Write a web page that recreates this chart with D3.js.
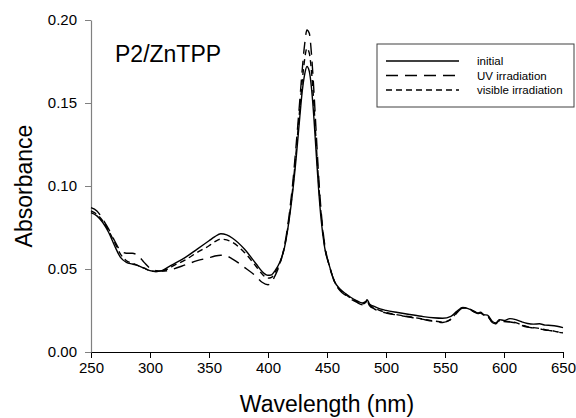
<!DOCTYPE html>
<html>
<head>
<meta charset="utf-8">
<script src="https://cdn.jsdelivr.net/npm/d3@7"></script>
<style>
  body { margin: 0; background: #fff; }
  svg { font-family: "Liberation Sans", Arial, sans-serif; }
</style>
</head>
<body>
<svg id="drawing_region"></svg>
<script>
// wavelengths (nm)
var wavelengths = [
    250, 255, 260, 265, 270, 275, 280, 285, 290, 295,
    300, 305, 310, 315, 320, 330, 340, 350, 355, 360,
    365, 370, 380, 390, 395, 400, 403, 406, 410, 414,
    418, 421, 424, 427, 429, 431, 433, 435, 437, 439,
    441, 443, 445, 448, 452, 456, 461, 466, 470, 475,
    480, 483, 484, 486, 490, 495, 500, 510, 520, 530,
    540, 548, 555, 560, 565, 570, 575, 578, 580, 583,
    586, 590, 593, 596, 600, 605, 610, 615, 620, 625,
    630, 635, 640, 645, 650
];

var initial = [
    .084, .082, .078, .072, .064, .057, .054, .053, .052, .0505,
    .049, .0485, .049, .051, .053, .057, .062, .067, .0695, .0712,
    .0705, .0685, .062, .053, .0485, .0462, .0465, .049, .054, .063,
    .080, .097, .118, .142, .157, .167, .172, .169, .158, .140,
    .118, .097, .080, .063, .052, .043, .038, .035, .033, .031,
    .0295, .0305, .0315, .029, .0275, .026, .0251, .0238, .0226, .0215,
    .0206, .0203, .0215, .0245, .0268, .026, .0245, .0235, .024, .0225,
    .0222, .0185, .0175, .0195, .019, .0201, .0195, .0182, .0172, .0168,
    .017, .0162, .016, .0155, .0147
];

var uvIrradiation = [
    .087, .085, .080, .074, .067, .061, .0595, .0595, .058, .054,
    .0505, .049, .0488, .049, .050, .0525, .055, .0568, .0578, .0583,
    .0578, .056, .051, .0455, .042, .0405, .042, .046, .053, .064,
    .083, .102, .126, .152, .170, .185, .194, .192, .178, .156,
    .130, .105, .085, .065, .052, .043, .037, .034, .032, .030,
    .0285, .030, .0305, .028, .026, .0245, .0235, .0222, .021, .0198,
    .0185, .0178, .0195, .0235, .0265, .026, .024, .0232, .0235, .022,
    .0215, .0178, .017, .0185, .0183, .0181, .0175, .016, .015, .0145,
    .014, .0132, .0128, .012, .0115
];

var visibleIrradiation = [
    .085, .083, .079, .073, .066, .059, .055, .0535, .052, .0505,
    .049, .0485, .0488, .050, .052, .0555, .060, .064, .0665, .068,
    .0675, .066, .060, .0515, .047, .0445, .045, .048, .0535, .0635,
    .081, .099, .122, .147, .163, .176, .183, .180, .168, .148,
    .124, .101, .083, .064, .052, .043, .0375, .0345, .0325, .0305,
    .029, .030, .031, .0285, .0265, .025, .0238, .0224, .0212, .020,
    .0188, .018, .0198, .0238, .0267, .0262, .0242, .0234, .0237, .0222,
    .0218, .018, .0172, .0188, .0185, .0183, .0177, .0163, .0152, .0147,
    .0142, .0134, .013, .0122, .0117
];

var seriesNames = ['initial', 'UV irradiation', 'visible irradiation'];
var seriesValues = [initial, uvIrradiation, visibleIrradiation];
var seriesDash = ['none', '12,7', '6,4'];

var xTicks = [250, 300, 350, 400, 450, 500, 550, 600, 650];
var yTicks = [0.00, 0.05, 0.10, 0.15, 0.20];

var Config = {
    parent: '#drawing_region',
    width: 576,
    height: 418,
    margin: { top: 20, right: 13, bottom: 66, left: 91 }
};

const svg = d3.select(Config.parent)
    .attr('width', Config.width)
    .attr('height', Config.height);

const inner_width = Config.width - Config.margin.left - Config.margin.right;
const inner_height = Config.height - Config.margin.top - Config.margin.bottom;

const chart = svg.append('g')
    .attr('transform', `translate(${Config.margin.left}, ${Config.margin.top})`);

const xscale = d3.scaleLinear().domain([250, 650]).range([0, inner_width]);
const yscale = d3.scaleLinear().domain([0, 0.2]).range([inner_height, 0]);

// axes
const xaxis = d3.axisBottom(xscale)
    .tickValues(xTicks)
    .tickFormat(d3.format('d'))
    .tickSize(6)
    .tickPadding(4)
    .tickSizeOuter(0);

const yaxis = d3.axisLeft(yscale)
    .tickValues(yTicks)
    .tickFormat(d3.format('.2f'))
    .tickSize(6)
    .tickPadding(8)
    .tickSizeOuter(0);

const xg = chart.append('g')
    .attr('transform', `translate(0, ${inner_height})`)
    .call(xaxis);
xg.select('.domain').attr('stroke', '#000');
xg.selectAll('.tick line').attr('stroke', '#000');
xg.selectAll('.tick text')
    .attr('font-size', 15)
    .attr('font-family', '"Liberation Sans", Arial, sans-serif')
    .attr('fill', '#000');

const yg = chart.append('g').call(yaxis);
yg.select('.domain').attr('stroke', '#808080').attr('stroke-width', 1.2);
yg.selectAll('.tick line').attr('stroke', '#808080');
yg.selectAll('.tick text')
    .attr('font-size', 15)
    .attr('font-family', '"Liberation Sans", Arial, sans-serif')
    .attr('fill', '#000');

// axis titles
svg.append('text')
    .attr('x', Config.margin.left + inner_width / 2)
    .attr('y', 412)
    .attr('text-anchor', 'middle')
    .attr('font-size', 23)
    .text('Wavelength (nm)');

svg.append('text')
    .attr('transform', `translate(32, ${Config.margin.top + inner_height / 2}) rotate(-90)`)
    .attr('text-anchor', 'middle')
    .attr('font-size', 23)
    .text('Absorbance');

// sample label
chart.append('text')
    .attr('x', 24)
    .attr('y', 42)
    .attr('font-size', 23)
    .text('P2/ZnTPP');

// spectra
const line = d3.line()
    .x((d, i) => xscale(wavelengths[i]))
    .y(d => yscale(d))
    .curve(d3.curveMonotoneX);

chart.selectAll('path.spectrum')
    .data(seriesValues)
    .join('path')
    .attr('class', 'spectrum')
    .attr('d', line)
    .attr('fill', 'none')
    .attr('stroke', '#000')
    .attr('stroke-width', 1.4)
    .attr('stroke-dasharray', (d, i) => seriesDash[i]);

// legend
const legend = svg.append('g').attr('transform', 'translate(377, 44)');
legend.append('rect')
    .attr('width', 197)
    .attr('height', 63)
    .attr('fill', '#fff')
    .attr('stroke', '#404040')
    .attr('stroke-width', 1);

const items = legend.selectAll('g.item')
    .data(seriesNames)
    .join('g')
    .attr('class', 'item')
    .attr('transform', (d, i) => `translate(0, ${17 + i * 14.5})`);

items.append('line')
    .attr('x1', 9)
    .attr('x2', 82)
    .attr('stroke', '#000')
    .attr('stroke-width', 1.4)
    .attr('stroke-dasharray', (d, i) => seriesDash[i]);

items.append('text')
    .attr('x', 100)
    .attr('y', 4)
    .attr('font-size', 11.5)
    .text(d => d);
</script>
</body>
</html>
